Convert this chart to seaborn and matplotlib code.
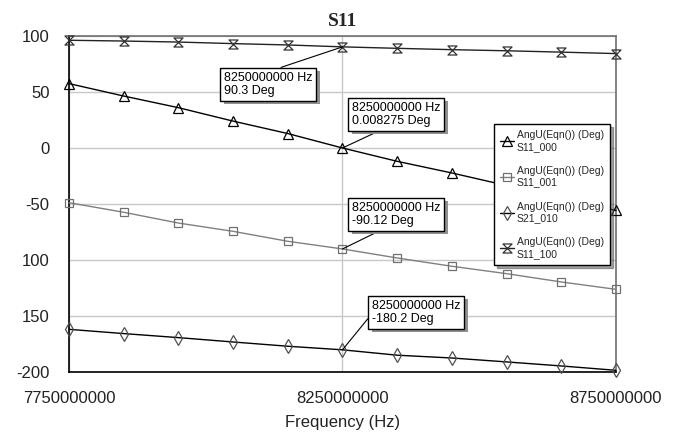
import numpy as np
import pandas as pd
import matplotlib
matplotlib.use("Agg")
import matplotlib.pyplot as plt
from matplotlib.path import Path
from matplotlib.lines import Line2D
import matplotlib.patheffects as pe
import seaborn as sns

# ---------------- data ----------------
freq = [7.75e9, 7.85e9, 7.95e9, 8.05e9, 8.15e9, 8.25e9, 8.35e9, 8.45e9, 8.55e9, 8.65e9, 8.75e9]
s11_000 = [57.5, 46.4, 36.0, 24.0, 12.9, 0.008275, -11.9, -22.3, -33.5, -44.8, -55.8]
s11_001 = [-48.8, -57.4, -67.0, -74.4, -83.3, -90.12, -98.2, -105.6, -112.2, -119.6, -126.2]
s21_010 = [-161.9, -165.7, -169.3, -173.2, -177.0, -180.2, -185.0, -187.5, -191.0, -194.6, -198.5]
s11_100 = [96.2, 95.5, 94.6, 93.2, 92.0, 90.3, 89.0, 87.8, 86.8, 85.6, 84.3]
series_names = ["S11_000", "S11_001", "S21_010", "S11_100"]
legend_prefix = "AngU(Eqn()) (Deg)"
xticks = [7.75e9, 8.25e9, 8.75e9]
xtick_labels = ["7750000000", "8250000000", "8750000000"]
yticks = [-200, -150, -100, -50, 0, 50, 100]
ytick_labels = ["-200", "150", "100", "-50", "0", "50", "100"]
marker_freq = 8.25e9
marker_texts = ["8250000000 Hz\n90.3 Deg", "8250000000 Hz\n0.008275 Deg",
                "8250000000 Hz\n-90.12 Deg", "8250000000 Hz\n-180.2 Deg"]
marker_vals = [90.3, 0.008275, -90.12, -180.2]

# ---------------- style ----------------
sns.set_theme(style="white")
plt.rcParams["font.family"] = ["Liberation Sans", "DejaVu Sans"]

hourglass = Path([(-1, 1), (1, 1), (-1, -1), (1, -1), (-1, 1)],
                 [Path.MOVETO, Path.LINETO, Path.LINETO, Path.LINETO, Path.CLOSEPOLY])

df = pd.DataFrame({"freq": freq, "S11_000": s11_000, "S11_001": s11_001,
                   "S21_010": s21_010, "S11_100": s11_100})

styles = {
    "S11_000": dict(color="black", marker="^", ms=7, mec="black"),
    "S11_001": dict(color="#808080", marker="s", ms=6.3, mec="#707070"),
    "S21_010": dict(color="black", marker="d", ms=7, mec="#505050"),
    "S11_100": dict(color="#222222", marker=hourglass, ms=6.5, mec="#333333"),
}

fig = plt.figure(figsize=(6.8, 4.32), dpi=100)
ax = fig.add_axes([69 / 680, 60 / 432, 547 / 680, 336 / 432])

for name in series_names:
    st = styles[name]
    sns.lineplot(data=df, x="freq", y=name, ax=ax, color=st["color"], lw=1.0,
                 marker=st["marker"], markersize=st["ms"], markerfacecolor="none",
                 markeredgecolor=st["mec"], markeredgewidth=0.9, clip_on=False, zorder=3)

ax.set_xlim(7.75e9, 8.75e9)
ax.set_ylim(-200, 100)
ax.set_xticks(xticks)
ax.set_xticklabels(xtick_labels)
ax.set_yticks(yticks)
ax.set_yticklabels(ytick_labels)
ax.tick_params(axis="both", length=0, labelsize=12, colors="#222222")
ax.tick_params(axis="y", pad=14)
ax.tick_params(axis="x", pad=14)
ax.grid(True, color="#c8c8c8", lw=1.0)
ax.set_axisbelow(True)
for s in ["left", "bottom"]:
    ax.spines[s].set_color("black")
    ax.spines[s].set_linewidth(1.2)
for s in ["top", "right"]:
    ax.spines[s].set_color("#707070")
    ax.spines[s].set_linewidth(1.2)
ax.set_xlabel("Frequency (Hz)", fontsize=12, labelpad=6, color="#222222")
ax.set_ylabel("")
ax.set_title("S11", fontsize=14, fontweight="bold", family="Liberation Serif", pad=7)

# ---------------- marker annotations ----------------
box_pos = [(224, 335), (352, 305), (352, 205), (372, 107)]
relpos = [(0.5, 1.0), (0.4, 0.0), (0.4, 0.0), (0.0, 0.45)]
for txt, val, (bx, by), rp in zip(marker_texts, marker_vals, box_pos, relpos):
    an = ax.annotate(txt, xy=(marker_freq, val), xycoords="data",
                     xytext=(bx, by), textcoords="figure pixels",
                     fontsize=9, color="black", ha="left", va="bottom", linespacing=1.15,
                     bbox=dict(boxstyle="square,pad=0.3", fc="white", ec="black", lw=1),
                     arrowprops=dict(arrowstyle="-", color="black", lw=0.8,
                                     shrinkA=0, shrinkB=0, relpos=rp),
                     zorder=6)
    an.get_bbox_patch().set_path_effects(
        [pe.SimplePatchShadow(offset=(2.5, -2.5), shadow_rgbFace="#909090", alpha=1.0),
         pe.Normal()])

# ---------------- legend ----------------
handles = []
for name in series_names:
    st = styles[name]
    handles.append(Line2D([0], [0], color=st["color"], lw=1.0, marker=st["marker"],
                          markersize=st["ms"], markerfacecolor="none",
                          markeredgecolor=st["mec"], markeredgewidth=0.9))
labels = [legend_prefix + "\n" + n for n in series_names]
leg = ax.legend(handles, labels, loc="upper left", bbox_to_anchor=(0.777, 0.738),
                fontsize=7.5, frameon=True, fancybox=False, shadow=True,
                edgecolor="black", framealpha=1, labelspacing=1.35,
                handlelength=1.3, handletextpad=0.3, borderpad=0.6,
                borderaxespad=0)
leg.get_frame().set_linewidth(1.0)
leg.set_zorder(7)

fig.savefig("out.png", dpi=100)
